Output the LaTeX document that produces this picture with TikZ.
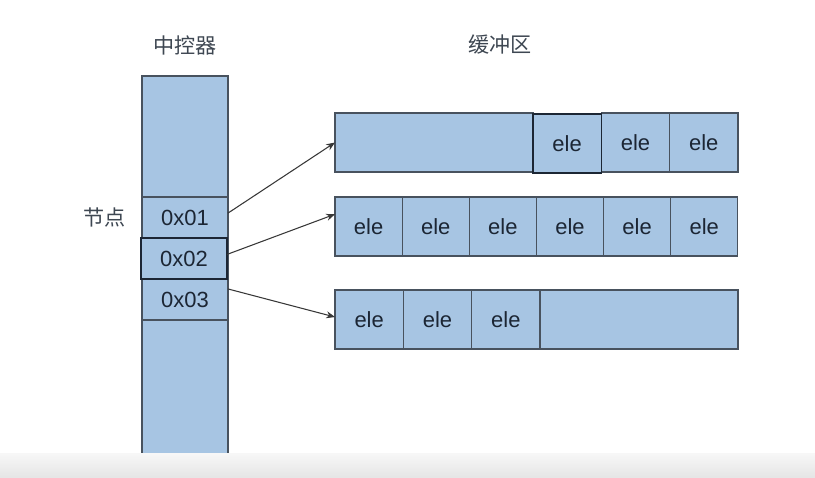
\documentclass[tikz,border=0pt]{standalone}
\usepackage{fontspec}
\setmainfont{Liberation Sans}
\newfontfamily\cjk{Noto Sans CJK SC}
\usetikzlibrary{arrows.meta, positioning}
\definecolor{cellblue}{RGB}{167,197,227}
\definecolor{edgegray}{RGB}{72,82,94}
\definecolor{inkdark}{RGB}{28,38,52}
\definecolor{linkgray}{RGB}{55,55,55}
\tikzset{
  cell/.style={rectangle, draw=edgegray, fill=cellblue, line width=0.7pt,
    outer sep=0pt, inner sep=0pt, minimum height=1.18cm,
    minimum width=1.367cm, text=inkdark, font=\fontsize{12.5}{14}\selectfont},
  widecell/.style={cell, minimum width=3.96cm},
  slot/.style={cell, minimum width=1.72cm, minimum height=0.82cm},
  pick/.style={draw=inkdark, line width=0.9pt},
  title/.style={font=\cjk\fontsize{12}{14}\selectfont, text=inkdark!85},
  link/.style={-{Stealth[length=5pt, width=4pt]}, line width=0.6pt, color=linkgray},
}

\begin{document}
\begin{tikzpicture}[x=0.02cm, y=-0.02cm]
  \useasboundingbox[fill=white] (0,0) rectangle (815,477);

  %% Controller column
  \node[title] (ctrltitle) at (185,45) {中控器};
  \node[cell, anchor=north west, minimum width=1.72cm, minimum height=7.6cm]
    (ctrl) at (142,76) {};
  \node[slot, anchor=north west] (n1) at (142,197) {0x01};
  \node[slot, below=0pt of n1, xshift=-0.02cm] (n2) {0x02};
  \node[slot, below=0pt of n2, xshift=0.02cm] (n3) {0x03};
  \draw[pick] (n2.south west) rectangle (n2.north east);
  \node[title, left=0.2cm of n1] (nodelabel) {节点};

  %% Buffer
  \node[title] (buftitle) at (500,45) {缓冲区};

  % row 1
  \node[widecell, anchor=north west] (r1e) at (335,113) {};
  \node[cell, right=0pt of r1e, yshift=-0.02cm] (r1c1) {ele};
  \node[cell, right=0pt of r1c1, yshift=0.02cm] (r1c2) {ele};
  \node[cell, right=0pt of r1c2] (r1c3) {ele};
  \draw[pick] (r1c1.south west) rectangle (r1c1.north east);

  % row 2
  \node[cell, minimum width=1.343cm, anchor=north west] (r2c1) at (335,197) {ele};
  \foreach \i/\j in {2/1,3/2,4/3,5/4,6/5}
    \node[cell, minimum width=1.343cm, right=0pt of r2c\j] (r2c\i) {ele};

  % row 3
  \node[cell, anchor=north west] (r3c1) at (335,290) {ele};
  \node[cell, right=0pt of r3c1] (r3c2) {ele};
  \node[cell, right=0pt of r3c2] (r3c3) {ele};
  \node[widecell, right=0pt of r3c3] (r3e) {};

  %% Links
  \draw[link] ([yshift=2.5pt]n1.east) -- (r1e.west);
  \draw[link] ([yshift=2.3pt]n2.east) -- ([yshift=7pt]r2c1.west);
  \draw[link] ([yshift=6pt]n3.east) -- ([yshift=1.4pt]r3c1.west);

  %% bottom strip
  \shade[top color=black!3, bottom color=black!10] (0,453) rectangle (815,477);
\end{tikzpicture}
\end{document}
